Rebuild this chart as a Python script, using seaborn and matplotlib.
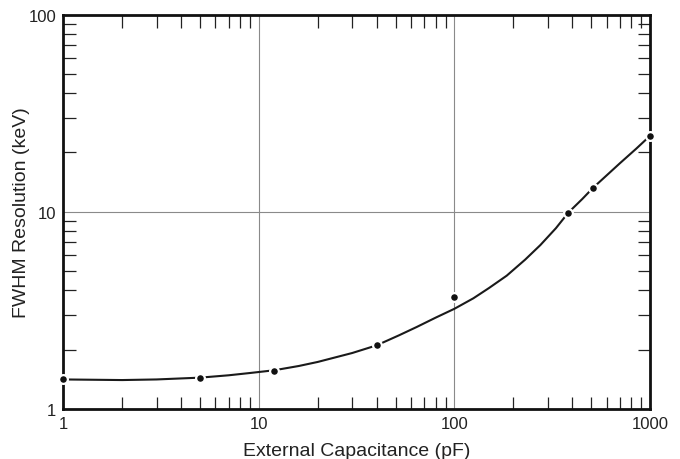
import numpy as np
import pandas as pd
import matplotlib
matplotlib.use("Agg")
import matplotlib.pyplot as plt
import matplotlib.ticker as mticker
import seaborn as sns

# measured points
cap_pts = [1, 5, 12, 40, 100, 382, 510, 1000]
fwhm_pts = [1.41, 1.44, 1.56, 2.10, 3.71, 9.9, 13.2, 24.3]

# fitted curve
cap_curve = [1, 2, 3, 5, 7, 9, 12, 16, 20, 30, 40, 52, 64, 80, 100, 125, 150,
             185, 230, 275, 330, 382, 450, 510, 600, 700, 850, 1000]
fwhm_curve = [1.41, 1.40, 1.41, 1.44, 1.48, 1.52, 1.57, 1.65, 1.73, 1.92, 2.10,
              2.36, 2.60, 2.90, 3.22, 3.64, 4.10, 4.74, 5.72, 6.78, 8.25, 9.9,
              11.6, 13.2, 15.3, 17.6, 20.9, 24.3]

x_ticks = [1, 10, 100, 1000]
y_ticks = [1, 10, 100]

sns.set_style("ticks")
plt.rcParams['font.family'] = ['Liberation Sans', 'DejaVu Sans']

pts = pd.DataFrame({"cap": cap_pts, "fwhm": fwhm_pts})
curve = pd.DataFrame({"cap": cap_curve, "fwhm": fwhm_curve})

fig = plt.figure(figsize=(6.8, 4.6), dpi=100)
ax = fig.add_axes([0.093, 0.109, 0.863, 0.857])

ax.set_xscale("log")
ax.set_yscale("log")
ax.set_xlim(1, 1000)
ax.set_ylim(1, 100)

ax.grid(True, which="major", color="#8a8a8a", linewidth=0.8)
sns.lineplot(data=curve, x="cap", y="fwhm", ax=ax, color="#1a1a1a", linewidth=1.5)
sns.scatterplot(data=pts, x="cap", y="fwhm", ax=ax, color="#111111", s=40,
                edgecolor="white", linewidth=1.6, zorder=5, clip_on=False)

ax.xaxis.set_major_locator(mticker.FixedLocator(x_ticks))
ax.yaxis.set_major_locator(mticker.FixedLocator(y_ticks))
ax.xaxis.set_minor_locator(mticker.LogLocator(base=10, subs=range(2, 10)))
ax.yaxis.set_minor_locator(mticker.LogLocator(base=10, subs=range(2, 10)))
ax.xaxis.set_minor_formatter(mticker.NullFormatter())
ax.yaxis.set_minor_formatter(mticker.NullFormatter())
ax.set_xticklabels([str(v) for v in x_ticks])
ax.set_yticklabels([str(v) for v in y_ticks])

ax.tick_params(which="both", direction="in", top=True, right=True,
               color="#222222", labelsize=12, labelcolor="#222222")
ax.tick_params(which="major", length=0, pad=5)
ax.tick_params(which="minor", length=9, width=0.9)

for s in ax.spines.values():
    s.set_linewidth(2.0)
    s.set_color("#111111")

ax.set_xlabel("External Capacitance (pF)", fontsize=14, color="#222222", labelpad=8)
ax.set_ylabel("FWHM Resolution (keV)", fontsize=14, color="#222222")
ax.yaxis.set_label_coords(-0.056, 0.5)

fig.savefig("out.png", dpi=100)
